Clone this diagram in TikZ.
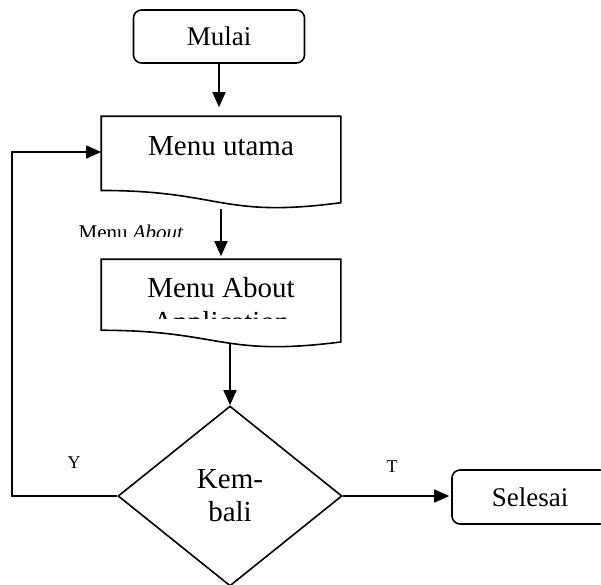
\documentclass[tikz,border=0pt]{standalone}
\usepackage{fontspec}
\setmainfont{Liberation Serif}
\usetikzlibrary{arrows.meta,shapes.geometric,calc}
\begin{document}
\begin{tikzpicture}[x=1pt,y=-1pt,
  line width=1.6pt,
  every node/.style={inner sep=0pt},
  term/.style={draw, rounded corners=8pt, font=\fontsize{27}{31}\selectfont},
  docframe/.style={minimum width=238pt},
  decision/.style={draw, diamond, minimum width=224pt, minimum height=180pt,
    align=center, font=\fontsize{29}{33}\selectfont},
  arr/.style={-{Triangle[length=15pt,width=13pt]}},
  big/.style={font=\fontsize{29}{34}\selectfont, align=center},
  small/.style={font=\fontsize{18}{21}\selectfont},
]
\clip (0,0) rectangle (601,584);

% start terminal
\node[term, minimum width=171pt, minimum height=53pt] (mulai) at (219,36.5) {Mulai};

% main menu document
\node[docframe, minimum height=91pt] (utama) at (221,162.5) {};
\draw (utama.north west) -- (utama.north east)
  -- ($(utama.north east)!0.934!(utama.south east)$)
  .. controls ($(utama.north)!1.107!(utama.south)$) and ($(utama.north)!0.802!(utama.south)$)
  .. ($(utama.north west)!0.802!(utama.south west)$) -- cycle;
\node[big] (utamatxt) at (221,146) {Menu utama};

% edge label, cut off by its text box
\begin{scope}
  \clip (60,212) rectangle (200,236);
  \node[font=\fontsize{21}{24}\selectfont, anchor=base] (aboutlab) at (131,239) {Menu \textit{About}};
\end{scope}

% about document
\node[docframe, minimum height=87pt] (about) at (221,303.5) {};
\draw (about.north west) -- (about.north east)
  -- ($(about.north east)!0.934!(about.south east)$)
  .. controls ($(about.north)!1.107!(about.south)$) and ($(about.north)!0.802!(about.south)$)
  .. ($(about.north west)!0.802!(about.south west)$) -- cycle;
\begin{scope}
  \clip (104,262) rectangle (338,318);
  \node[big] (abouttxt) at (221,308) {Menu About\\Application};
\end{scope}

% decision
\node[decision] (kembali) at (230,496) {Kem-\\bali};

% end terminal
\node[term, minimum width=156pt, minimum height=54pt] (selesai) at (530,497) {Selesai};

% branch labels
\node[small] (ylab) at (74,463) {Y};
\node[small] (tlab) at (392,467) {T};

% connectors
\draw[arr, shorten >=9pt] (mulai.south) -- (mulai.south |- utama.north);
\draw[arr, shorten >=3pt] (utama.south) -- (about.north);
\draw[arr] (about.south -| kembali.north) ++(0,-4) -- (kembali.north);
\coordinate (lp) at (12,152);
\draw[arr] (kembali.west) -| (lp) -- (lp -| utama.west);
\draw[arr, shorten >=2pt] (kembali.east) -- (kembali.east -| selesai.west);
\end{tikzpicture}
\end{document}
